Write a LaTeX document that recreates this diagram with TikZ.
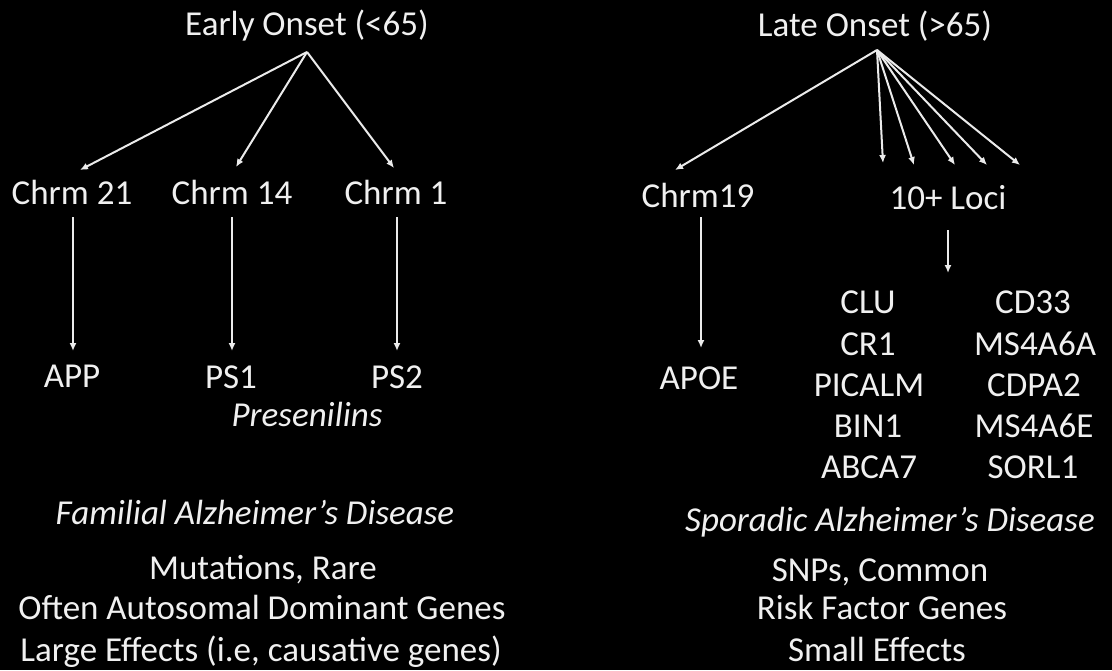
\documentclass[tikz,border=0pt]{standalone}
\usepackage{fontspec}
\setmainfont{Carlito}
\usetikzlibrary{arrows.meta}
\begin{document}
\begin{tikzpicture}[x=1pt,y=-1pt,
  lbl/.style={text=white!94!black,font=\fontsize{35}{40}\selectfont,inner sep=0pt,anchor=base},
  ilbl/.style={lbl,font=\fontsize{35}{40}\selectfont\itshape},
  conn/.style={draw=white!92!black,line width=2pt,-{Latex[length=8pt,width=7pt]}}]
\fill[black] (0,0) rectangle (1112,670);
\useasboundingbox (0,0) rectangle (1112,670);

% ---------- left tree ----------
\node[lbl] (early) at (307,35) {Early Onset (<65)};
\node[lbl] (c21) at (72,204) {Chrm 21};
\node[lbl] (c14) at (232,204) {Chrm 14};
\node[lbl] (c1)  at (396,204) {Chrm 1};
\node[lbl] (app) at (72,387) {APP};
\node[lbl] (ps1) at (231,388) {PS1};
\node[lbl] (ps2) at (397,388) {PS2};
\node[ilbl] (presen) at (307,426) {Presenilins};
\node[ilbl] (familial) at (255,524) {Familial Alzheimer’s Disease};
\node[lbl] (mut) at (263,579) {Mutations, Rare};
\node[lbl] (often) at (262,619) {Often Autosomal Dominant Genes};
\node[lbl] (large) at (261,661) {Large Effects (i.e, causative genes)};

\coordinate (eo) at (307,52);
\coordinate (t21) at (80,170);
\coordinate (t14) at (236,167);
\coordinate (t1) at (394,168);
\draw[conn] (eo) -- (t21);
\draw[conn] (eo) -- (t14);
\draw[conn] (eo) -- (t1);

\coordinate (s21) at (73,217);  \coordinate (e21) at (73,351);
\coordinate (s14) at (232,217); \coordinate (e14) at (232,351);
\coordinate (s1)  at (397,217); \coordinate (e1)  at (397,351);
\draw[conn] (s21) -- (e21);
\draw[conn] (s14) -- (e14);
\draw[conn] (s1) -- (e1);

% ---------- right tree ----------
\node[lbl] (late) at (875,36) {Late Onset (>65)};
\node[lbl] (c19) at (698,207) {Chrm19};
\node[lbl] (loci) at (948,209) {10+ Loci};
\node[lbl] (apoe) at (699,389) {APOE};

\node[lbl] (clu)    at (868,313) {CLU};
\node[lbl] (cr1)    at (868,355) {CR1};
\node[lbl] (picalm) at (869,396) {PICALM};
\node[lbl] (bin1)   at (868,437) {BIN1};
\node[lbl] (abca7)  at (869,478) {ABCA7};
\node[lbl] (cd33)   at (1033,313) {CD33};
\node[lbl] (ms4a6a) at (1035,355) {MS4A6A};
\node[lbl] (cdpa2)  at (1034,396) {CDPA2};
\node[lbl] (ms4a6e) at (1034,437) {MS4A6E};
\node[lbl] (sorl1)  at (1033,478) {SORL1};

\node[ilbl] (sporadic) at (890,531) {Sporadic Alzheimer’s Disease};
\node[lbl] (snps) at (880,581) {SNPs, Common};
\node[lbl] (risk) at (882,619) {Risk Factor Genes};
\node[lbl] (small) at (877,661) {Small Effects};

\coordinate (lo) at (877,50);
\coordinate (t19) at (675,170);
\coordinate (la) at (883,163);
\coordinate (lb) at (914,165);
\coordinate (lc) at (955,165);
\coordinate (ld) at (987,165);
\coordinate (le) at (1020,165);
\draw[conn] (lo) -- (t19);
\foreach \t in {la,lb,lc,ld,le} \draw[conn] (lo) -- (\t);

\coordinate (s19) at (701,217); \coordinate (e19) at (701,348);
\draw[conn] (s19) -- (e19);
\coordinate (sl) at (948,230); \coordinate (el) at (948,273);
\draw[conn] (sl) -- (el);
\end{tikzpicture}
\end{document}
